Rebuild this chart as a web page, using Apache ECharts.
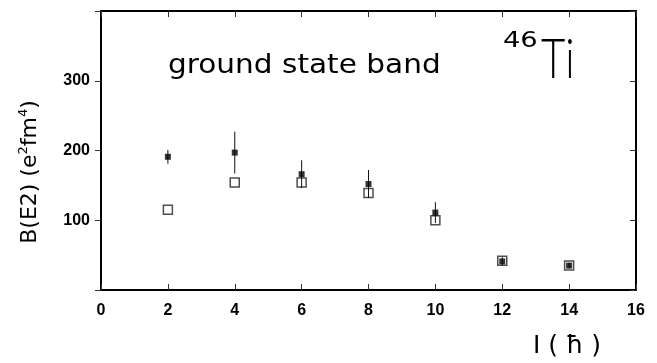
<!DOCTYPE html>
<html>
<head>
<meta charset="utf-8">
<script src="https://cdn.jsdelivr.net/npm/echarts@6/dist/echarts.min.js"></script>
<style>
  html, body { margin: 0; padding: 0; background: #fff; }
  #chart { width: 657px; height: 363px; }
</style>
</head>
<body>
<div id="chart"></div>
<script>
// spin I (hbar) and B(E2) values, e^2 fm^4
const spins = [2, 4, 6, 8, 10, 12, 14];
const expValues = [191, 197, 166, 152, 111, 41, 35];
const expErrors = [10, 30, 20, 20, 15, 6, 4];
const theoryValues = [115, 154, 154, 139, 100, 42, 35];

const xTicks = [0, 2, 4, 6, 8, 10, 12, 14, 16];
const yLabels = [100, 200, 300];

const expPoints = spins.map((s, i) => [s, expValues[i]]);
const theoryPoints = spins.map((s, i) => [s, theoryValues[i]]);
const errorBars = spins.map((s, i) => [s, expValues[i] - expErrors[i], expValues[i] + expErrors[i]]);

const chart = echarts.init(document.getElementById('chart'));

const frame = { show: true, onZero: false, lineStyle: { color: '#000', width: 2 } };
const tickStyle = { color: '#333', width: 1 };

chart.setOption({
    animation: false,
    grid: { left: 101, right: 21, top: 11, bottom: 73 },
    xAxis: [
        {
            type: 'value', min: 0, max: 16, interval: 2,
            axisLine: frame,
            axisTick: { show: true, inside: true, length: 6, lineStyle: tickStyle },
            axisLabel: {
                margin: 13,
                color: '#000',
                fontFamily: 'Liberation Sans',
                fontWeight: 'bold',
                fontSize: 16,
                formatter: v => (xTicks.includes(v) ? String(v) : '')
            },
            splitLine: { show: false }
        },
        {
            type: 'value', position: 'top', min: 0, max: 16, interval: 2,
            axisLine: frame,
            axisTick: { show: true, inside: true, length: 6, lineStyle: tickStyle },
            axisLabel: { show: false },
            splitLine: { show: false }
        }
    ],
    yAxis: [
        {
            type: 'value', min: 0, max: 400, interval: 100,
            axisLine: frame,
            axisTick: { show: true, inside: false, length: 6, lineStyle: tickStyle },
            axisLabel: {
                margin: 11,
                color: '#000',
                fontFamily: 'Liberation Sans',
                fontWeight: 'bold',
                fontSize: 16,
                formatter: v => (yLabels.includes(v) ? String(v) : '')
            },
            splitLine: { show: false }
        },
        {
            type: 'value', position: 'right', min: 0, max: 400, interval: 100,
            axisLine: frame,
            axisTick: { show: true, inside: true, length: 6, lineStyle: tickStyle },
            axisLabel: { show: false },
            splitLine: { show: false }
        }
    ],
    graphic: [
        {
            type: 'text', x: 168, y: 52, scaleX: 1.095,
            style: {
                text: 'ground state band',
                fontFamily: 'DejaVu Sans', fontSize: 27, fill: '#000',
                verticalAlign: 'top'
            }
        },
        {
            type: 'text', x: 503, y: 31, scaleX: 1.3,
            style: {
                text: '46',
                fontFamily: 'DejaVu Sans', fontSize: 21, fill: '#000',
                verticalAlign: 'top'
            }
        },
        {
            type: 'text', x: 541, y: 32, scaleX: 0.75,
            style: {
                text: 'Ti',
                fontFamily: 'Lato', fontWeight: 300, fontSize: 56, fill: '#000',
                verticalAlign: 'top'
            }
        },
        {
            type: 'text', x: 30, y: 172, rotation: Math.PI / 2,
            style: {
                text: 'B(E2) (e{s|2}fm{s|4})',
                align: 'center', verticalAlign: 'middle',
                fontFamily: 'DejaVu Sans', fontSize: 22, fill: '#000',
                rich: {
                    s: { fontFamily: 'DejaVu Sans', fontSize: 13, fill: '#000', padding: [0, 0, 12, 0] }
                }
            }
        },
        {
            type: 'text', left: 533, top: 334,
            style: {
                text: 'I ( \u0127 )',
                fontFamily: 'DejaVu Sans', fontSize: 25, fill: '#000'
            }
        }
    ],
    series: [
        {
            type: 'scatter',
            name: 'theory',
            data: theoryPoints,
            symbol: 'rect',
            symbolSize: 9,
            itemStyle: { color: '#fff', borderColor: '#222', borderWidth: 1.5 },
            z: 2
        },
        {
            type: 'custom',
            name: 'errors',
            data: errorBars,
            renderItem: (params, api) => {
                const lo = api.coord([api.value(0), api.value(1)]);
                const hi = api.coord([api.value(0), api.value(2)]);
                return {
                    type: 'line',
                    shape: { x1: lo[0], y1: lo[1], x2: hi[0], y2: hi[1] },
                    style: { stroke: '#111', lineWidth: 1 }
                };
            },
            z: 3
        },
        {
            type: 'scatter',
            name: 'experiment',
            data: expPoints,
            symbol: 'rect',
            symbolSize: 6,
            itemStyle: { color: '#000' },
            z: 4
        }
    ]
});
</script>
</body>
</html>
